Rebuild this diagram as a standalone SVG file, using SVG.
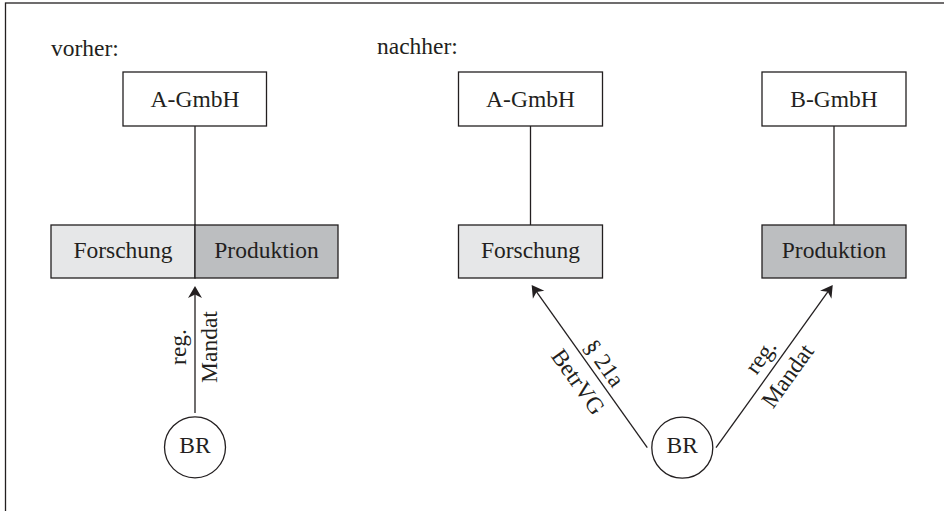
<svg xmlns="http://www.w3.org/2000/svg" width="944" height="511" viewBox="0 0 944 511">
<style>
text{font-family:"Liberation Serif","Times New Roman",serif;font-size:23.5px;fill:#231f20}
.c{text-anchor:middle}
.box{fill:#fff;stroke:#231f20;stroke-width:1.3}
.light{fill:#e6e7e8;stroke:#231f20;stroke-width:1.3}
.dark{fill:#bcbec0;stroke:#231f20;stroke-width:1.3}
.ln{stroke:#231f20;stroke-width:1.3;fill:none}
.arr{stroke:#231f20;stroke-width:1.3;fill:none;marker-end:url(#ah)}
</style>
<defs>
<marker id="ah" markerUnits="userSpaceOnUse" markerWidth="16" markerHeight="16" refX="12" refY="7" orient="auto" overflow="visible">
<path d="M15,7 L3,0 L6.5,7 L3,14 Z" fill="#231f20"/>
</marker>
</defs>
<rect x="5.5" y="3" width="1000" height="1000" fill="#fff" stroke="#231f20" stroke-width="1.3"/>
<text x="51" y="56">vorher:</text>
<text x="377" y="54">nachher:</text>

<g id="connectors">
<line class="ln" x1="195" y1="126" x2="195" y2="225"/>
<line class="ln" x1="530.5" y1="126" x2="530.5" y2="225"/>
<line class="ln" x1="834" y1="126" x2="834" y2="225"/>
<line class="arr" x1="195" y1="413" x2="195" y2="289"/>
<line class="arr" x1="647.3" y1="447.7" x2="533.4" y2="287.4"/>
<line class="arr" x1="716" y1="447.7" x2="831" y2="287.4"/>
<g transform="translate(195,347) rotate(-90)">
<text class="c" y="-9">reg.</text>
<text class="c" y="22">Mandat</text>
</g>
<g transform="translate(593,371.3) rotate(54.6)">
<text class="c" y="-6">§ 21a</text>
<text class="c" y="26">BetrVG</text>
</g>
<g transform="translate(774.3,366.4) rotate(-54.35)">
<text class="c" y="-9">reg.</text>
<text class="c" y="24">Mandat</text>
</g>
</g>

<g id="a-gmbh-vorher">
<rect class="box" x="123" y="72" width="143.5" height="54"/>
<text class="c" x="195" y="107">A-GmbH</text>
</g>
<g id="forschung-vorher">
<rect class="light" x="51" y="225" width="144" height="53"/>
<text class="c" x="123" y="258">Forschung</text>
</g>
<g id="produktion-vorher">
<rect class="dark" x="195" y="225" width="143" height="53"/>
<text class="c" x="266.5" y="258">Produktion</text>
</g>
<g id="br-vorher">
<circle class="box" cx="195" cy="447.3" r="30.5"/>
<text class="c" x="195" y="452.5">BR</text>
</g>

<g id="a-gmbh-nachher">
<rect class="box" x="458.5" y="72" width="144" height="54"/>
<text class="c" x="530.5" y="107">A-GmbH</text>
</g>
<g id="b-gmbh">
<rect class="box" x="762" y="72" width="144" height="54"/>
<text class="c" x="834" y="107">B-GmbH</text>
</g>
<g id="forschung-nachher">
<rect class="light" x="458.5" y="225" width="144" height="53"/>
<text class="c" x="530.5" y="258">Forschung</text>
</g>
<g id="produktion-nachher">
<rect class="dark" x="762" y="225" width="144" height="53"/>
<text class="c" x="834" y="258">Produktion</text>
</g>
<g id="br-nachher">
<circle class="box" cx="682.3" cy="447.7" r="30.5"/>
<text class="c" x="682.3" y="453">BR</text>
</g>
</svg>
